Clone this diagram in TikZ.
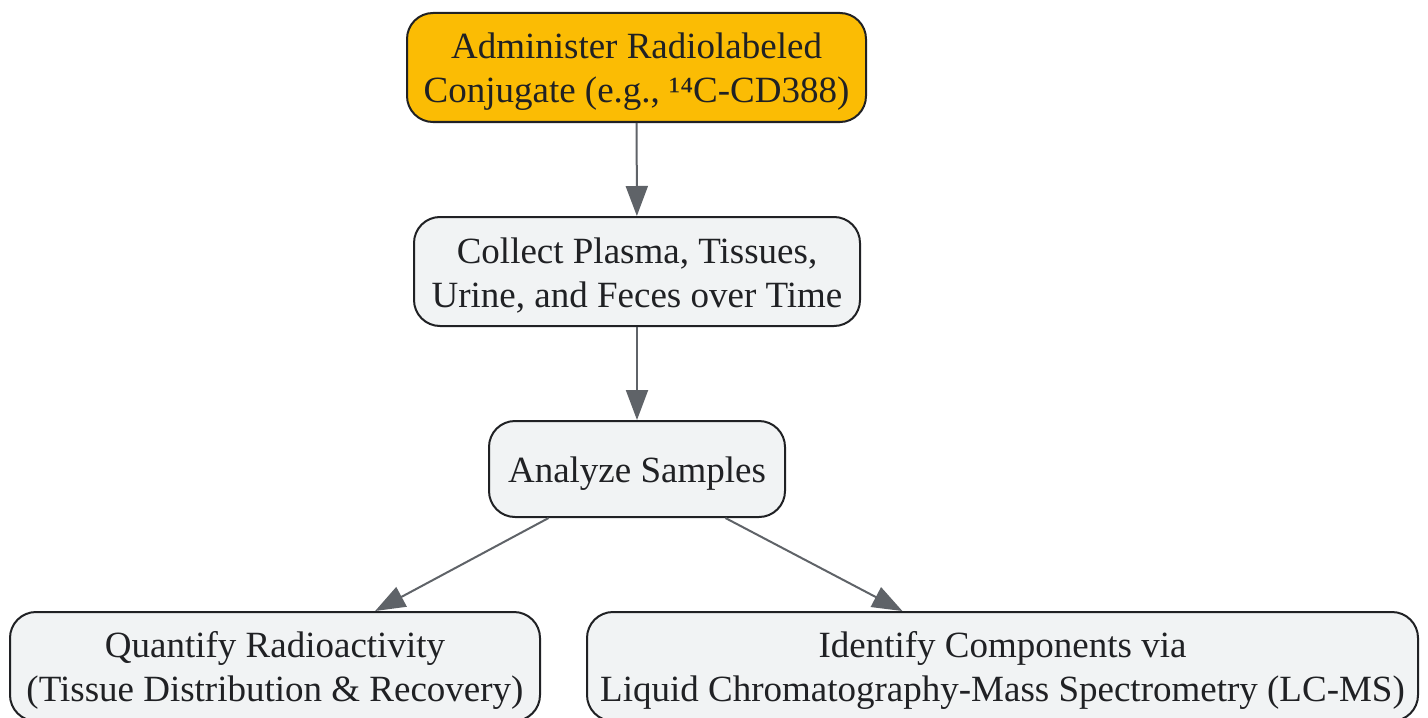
\documentclass[tikz,border=0pt]{standalone}
\usepackage{fontspec}
\setmainfont{Liberation Serif}
\usepackage{tikz}
\usetikzlibrary{arrows.meta}

\definecolor{stepyellow}{HTML}{FBBC04}
\definecolor{stepgray}{HTML}{F1F3F4}
\definecolor{stepborder}{HTML}{202124}
\definecolor{arrowgray}{HTML}{5F6368}
\newcommand{\topstrut}{\rule{0pt}{17pt}}

\begin{document}
\begin{tikzpicture}[x=0.5pt, y=-0.5pt,
		stepbox/.style={draw=stepborder, line width=1pt, fill=stepgray, rounded corners=13pt,
			align=center, inner sep=0pt, minimum height=54.5pt,
			font=\fontsize{18.5pt}{22pt}\selectfont, text=stepborder},
		flow/.style={draw=arrowgray, line width=1pt, -{Triangle[length=15pt, width=11pt]}}]
		\useasboundingbox (0,0) rectangle (1428,717);
		\node[stepbox, fill=stepyellow, minimum width=229.5pt] (admin) at (636.5,67.5)
			{\topstrut Administer Radiolabeled\\Conjugate (e.g., ¹⁴C-CD388)};
		\node[stepbox, minimum width=223pt] (collect) at (637,271.5)
			{\topstrut Collect Plasma, Tissues,\\Urine, and Feces over Time};
		\node[stepbox, minimum width=148pt, minimum height=48pt] (analyze) at (637,469)
			{\topstrut Analyze Samples};
		\node[stepbox, minimum width=265pt] (quant) at (275,666.5)
			{\topstrut Quantify Radioactivity\\(Tissue Distribution \& Recovery)};
		\node[stepbox, minimum width=415.5pt] (ident) at (1002.5,666.5)
			{\topstrut Identify Components via\\Liquid Chromatography-Mass Spectrometry (LC-MS)};
		\draw[flow] (admin) -- (collect);
		\draw[flow] (collect) -- (analyze);
		\draw[flow] (analyze.209) -- (quant.29);
		\draw[flow] (analyze.331) -- (ident.151);
	\end{tikzpicture}
\end{document}
